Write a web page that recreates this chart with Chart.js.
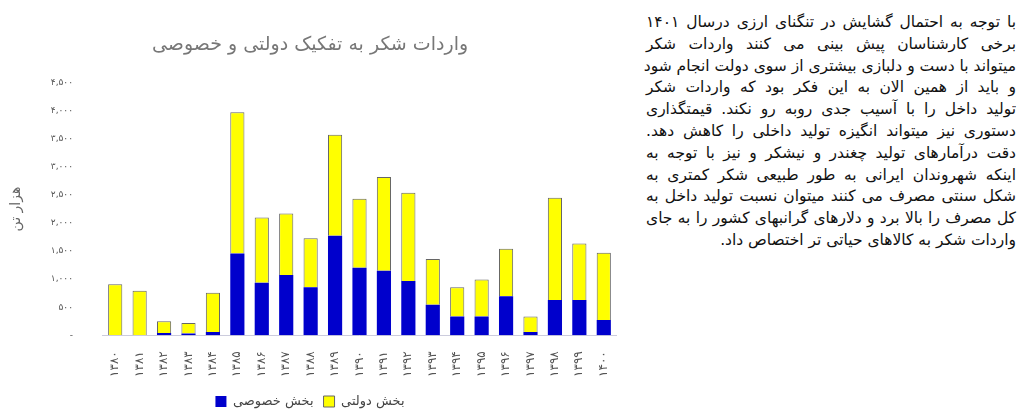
<!DOCTYPE html>
<html><head><meta charset="utf-8">
<script src="https://cdn.jsdelivr.net/npm/chart.js@4/dist/chart.umd.min.js"></script>
<style>
body{margin:0;background:#fff;width:1024px;height:420px;overflow:hidden;font-family:"DejaVu Sans",sans-serif}
#wrap{position:absolute;left:0;top:0;width:630px;height:420px}
#txt{position:absolute;left:646px;top:12px;width:370px;direction:rtl;font-size:15.5px;line-height:21.8px;color:#111}
#txt div{text-align:justify;text-align-last:justify;white-space:nowrap}
#txt div.last{text-align-last:right}
</style></head><body>
<div id="wrap"><canvas id="c"></canvas></div>
<div id="txt">
<div>با توجه به احتمال گشایش در تنگنای ارزی درسال ۱۴۰۱</div>
<div>برخی کارشناسان پیش بینی می کنند واردات شکر</div>
<div>میتواند با دست و دلبازی بیشتری از سوی دولت انجام شود</div>
<div>و باید از همین الان به این فکر بود که واردات شکر</div>
<div>تولید داخل را با آسیب جدی روبه رو نکند. قیمتگذاری</div>
<div>دستوری نیز میتواند انگیزه تولید داخلی را کاهش دهد.</div>
<div>دقت درآمارهای تولید چغندر و نیشکر و نیز با توجه به</div>
<div>اینکه شهروندان ایرانی به طور طبیعی شکر کمتری به</div>
<div>شکل سنتی مصرف می کنند میتوان نسبت تولید داخل به</div>
<div>کل مصرف را بالا برد و دلارهای گرانبهای کشور را به جای</div>
<div class="last">واردات شکر به کالاهای حیاتی تر اختصاص داد.</div>
</div>
<script>
const years = ['۱۳۸۰','۱۳۸۱','۱۳۸۲','۱۳۸۳','۱۳۸۴','۱۳۸۵','۱۳۸۶','۱۳۸۷','۱۳۸۸','۱۳۸۹','۱۳۹۰','۱۳۹۱','۱۳۹۲','۱۳۹۳','۱۳۹۴','۱۳۹۵','۱۳۹۶','۱۳۹۷','۱۳۹۸','۱۳۹۹','۱۴۰۰'];
const totals = [908,792,249,220,757,3977,2098,2168,1728,3572,2434,2821,2538,1358,855,994,1543,335,2451,1636,1468];
const privateSector = [0,0,40,30,58,1457,936,1075,855,1775,1202,1150,965,543,335,335,694,58,630,630,272];
const governmentSector = totals.map((t,i)=>t-privateSector[i]);
const yTickLabels = {0:'-',500:'۵۰۰',1000:'۱,۰۰۰',1500:'۱,۵۰۰',2000:'۲,۰۰۰',2500:'۲,۵۰۰',3000:'۳,۰۰۰',3500:'۳,۵۰۰',4000:'۴,۰۰۰',4500:'۴,۵۰۰'};
const font = "'DejaVu Sans', sans-serif";
new Chart(document.getElementById('c'),{
 type:'bar',
 data:{labels:years,datasets:[
  {label:'بخش خصوصی',data:privateSector,backgroundColor:'#0000CC',borderColor:'#0000CC',borderWidth:0,barPercentage:0.58,categoryPercentage:1},
  {label:'بخش دولتی',data:governmentSector,backgroundColor:'#FFFF00',borderColor:'#666',borderWidth:1,barPercentage:0.58,categoryPercentage:1}
 ]},
 options:{responsive:true,maintainAspectRatio:false,animation:false,
  layout:{padding:{left:4,right:14,top:12,bottom:2}},
  plugins:{
   title:{display:true,text:'واردات شکر به تفکیک دولتی و خصوصی',color:'#777',font:{family:font,size:19,weight:'normal'},padding:{top:22,bottom:26}},
   legend:{position:'bottom',labels:{font:{family:font,size:13},color:'#444',boxWidth:11,boxHeight:11,padding:10}},
   tooltip:{enabled:false}
  },
  scales:{
   x:{stacked:true,grid:{display:false},border:{color:'#ccd'},ticks:{font:{family:font,size:12},color:'#555',maxRotation:90,minRotation:90,padding:8}},
   y:{stacked:true,min:0,max:4500,grid:{display:false},border:{display:false},
      title:{display:true,text:'هزار تن',font:{family:font,size:14},color:'#666'},
      ticks:{stepSize:500,font:{family:font,size:9},color:'#555',padding:22,callback:v=>yTickLabels[v]}}
  }
 }
});
</script>
</body></html>
